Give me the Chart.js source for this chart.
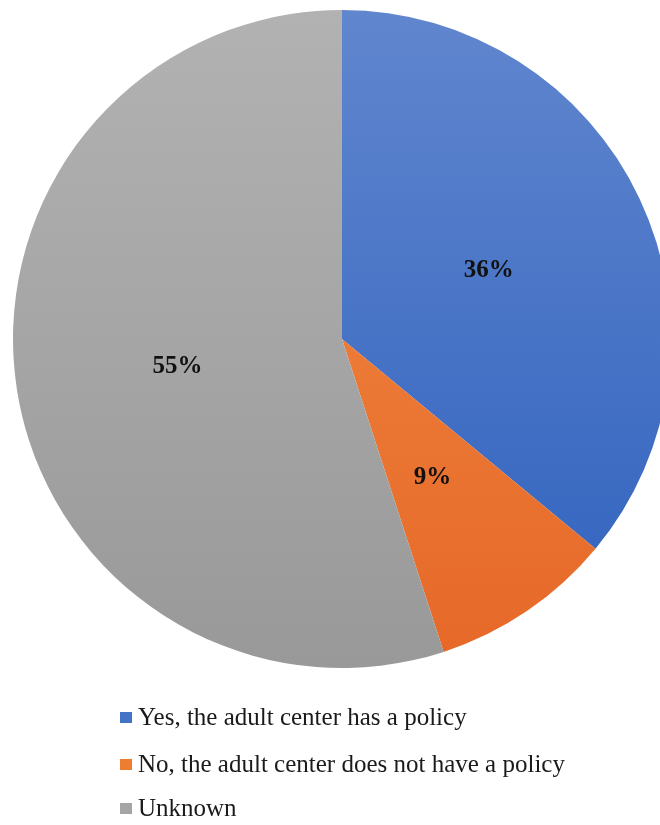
<!DOCTYPE html>
<html>
<head>
<meta charset="utf-8">
<script src="https://cdn.jsdelivr.net/npm/chart.js@4"></script>
<style>
  html, body { margin: 0; padding: 0; background: #fff; width: 660px; height: 825px; overflow: hidden; }
  #wrap { position: absolute; left: 0; top: 0; width: 684px; height: 825px; }
</style>
</head>
<body>
<div id="wrap"><canvas id="canvas"></canvas></div>
<script>
    const labels = ['Yes, the adult center has a policy', 'No, the adult center does not have a policy', 'Unknown'];
    const values = [36, 9, 55];
    const baseColors = ['#4472C4', '#ED7D31', '#A5A5A5'];
    const gradStops = [['#6086CE', '#2F61BE'], ['#F28C44', '#E66828'], ['#B2B2B2', '#999999']];

    const fillFor = (ctx) => {
        const chart = ctx.chart;
        const area = chart.chartArea;
        if (!area) return baseColors[ctx.dataIndex];
        const g = chart.ctx.createLinearGradient(0, area.top, 0, area.bottom);
        g.addColorStop(0, gradStops[ctx.dataIndex][0]);
        g.addColorStop(1, gradStops[ctx.dataIndex][1]);
        return g;
    };

    // percent labels in the middle of each slice
    const pctLabels = {
        id: 'pctLabels',
        afterDatasetsDraw(chart) {
            const c = chart.ctx;
            const meta = chart.getDatasetMeta(0);
            c.save();
            c.font = 'bold 25px "Liberation Serif", "Times New Roman", serif';
            c.fillStyle = '#111';
            c.textAlign = 'center';
            c.textBaseline = 'middle';
            meta.data.forEach((arc, i) => {
                const p = arc.getCenterPoint();
                c.fillText(values[i] + '%', p.x - 2, p.y + 2);
            });
            c.restore();
        }
    };

    // vertical legend under the pie, left aligned
    const listLegend = {
        id: 'listLegend',
        afterDraw(chart) {
            const c = chart.ctx;
            const baselines = [725, 772, 816];
            c.save();
            c.font = '25px "Liberation Serif", "Times New Roman", serif';
            c.textAlign = 'left';
            c.textBaseline = 'alphabetic';
            labels.forEach((lab, i) => {
                c.fillStyle = baseColors[i];
                c.fillRect(120, baselines[i] - 13, 12, 11);
                c.fillStyle = '#1a1a1a';
                c.fillText(lab, 138, baselines[i]);
            });
            c.restore();
        }
    };

    new Chart(document.getElementById('canvas').getContext('2d'), {
        type: 'pie',
        data: {
            labels: labels,
            datasets: [{
                data: values,
                backgroundColor: fillFor,
                borderWidth: 0
            }]
        },
        options: {
            responsive: true,
            maintainAspectRatio: false,
            animation: false,
            layout: { padding: { left: 13, top: 10, right: 13, bottom: 157 } },
            plugins: {
                legend: { display: false },
                tooltip: { enabled: false }
            }
        },
        plugins: [pctLabels, listLegend]
    });
</script>
</body>
</html>
